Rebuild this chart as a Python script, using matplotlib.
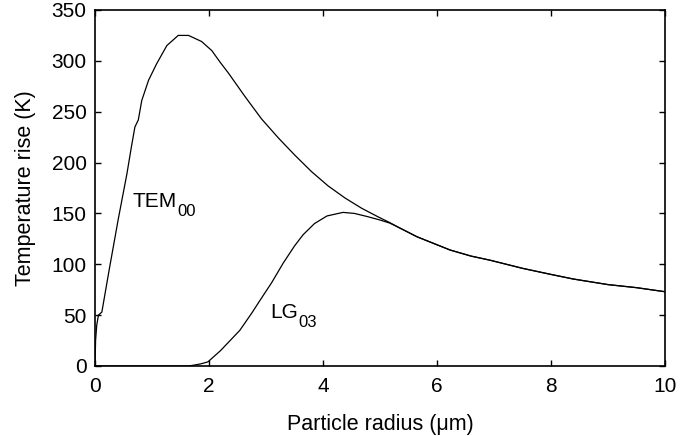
import numpy as np
import matplotlib
matplotlib.use('Agg')
import matplotlib.pyplot as plt

# TEM00 beam
tem_r = [0, 0.01, 0.03, 0.06, 0.12, 0.25, 0.41, 0.56, 0.64, 0.70, 0.76,
         0.82, 0.94, 1.08, 1.26, 1.46, 1.64, 1.87, 2.05, 2.19, 2.34, 2.63,
         2.92, 3.22, 3.51, 3.80, 4.09, 4.39, 4.68, 4.97, 5.17, 5.3, 5.65,
         6.23, 6.6, 6.93, 7.5, 8.0, 8.39, 9.0, 9.5, 10.0]
tem_t = [0, 25, 40, 50, 53, 95, 145, 189, 216, 235, 242,
         261, 281, 297, 315, 325, 325, 319, 310, 299, 288, 265,
         243, 224, 207, 191, 177, 165, 155, 146.5, 141, 137, 127,
         114, 108, 104, 96, 90, 85.5, 80, 77, 73]

# LG03 beam
lg_r = [0, 1.6, 1.7, 1.85, 1.98, 2.2, 2.54, 2.75, 2.9, 3.1, 3.3, 3.5,
        3.65, 3.85, 4.07, 4.35, 4.55, 4.77, 5.0, 5.17, 5.3, 5.65, 6.23,
        6.6, 6.93, 7.5, 8.0, 8.39, 9.0, 9.5, 10.0]
lg_t = [0, 0, 0.5, 2, 4, 15, 35, 52, 65, 82, 101, 118,
        129, 140, 147.5, 151, 150, 147, 143.5, 140.5, 137, 127, 114,
        108, 104, 96, 90, 85.5, 80, 77, 73]

plt.rcParams['font.family'] = ['Liberation Sans', 'DejaVu Sans']

fig = plt.figure(figsize=(6.9, 4.36), dpi=100)
ax = fig.add_axes([0.1377, 0.1606, 0.8261, 0.8165])

ax.plot(tem_r, tem_t, color='black', lw=0.9)
ax.plot(lg_r, lg_t, color='black', lw=0.9)

# curve labels with lowered subscripts
for main, sub, x, y in [('TEM', '00', 0.66, 156), ('LG', '03', 3.07, 47)]:
    t = ax.text(x, y, main, fontsize=15, va='baseline', ha='left')
    ax.annotate(sub, xy=(1, 0), xycoords=t, xytext=(0.5, -3.3),
                textcoords='offset points', fontsize=12, va='baseline',
                ha='left')

ax.set_xlim(0, 10)
ax.set_ylim(0, 350)
ax.set_xticks(np.arange(0, 11, 2))
ax.set_yticks(np.arange(0, 351, 50))
ax.tick_params(direction='in', top=True, right=True, length=4, width=1,
               labelsize=15)
ax.tick_params(axis='x', pad=8)
ax.tick_params(axis='y', pad=6)
for s in ax.spines.values():
    s.set_linewidth(1.2)

ax.set_xlabel(u'Particle radius (\u03bcm)', fontsize=15.5, labelpad=13)
ax.set_ylabel('Temperature rise (K)', fontsize=15.5, labelpad=11)

fig.savefig('out.png', dpi=100)
